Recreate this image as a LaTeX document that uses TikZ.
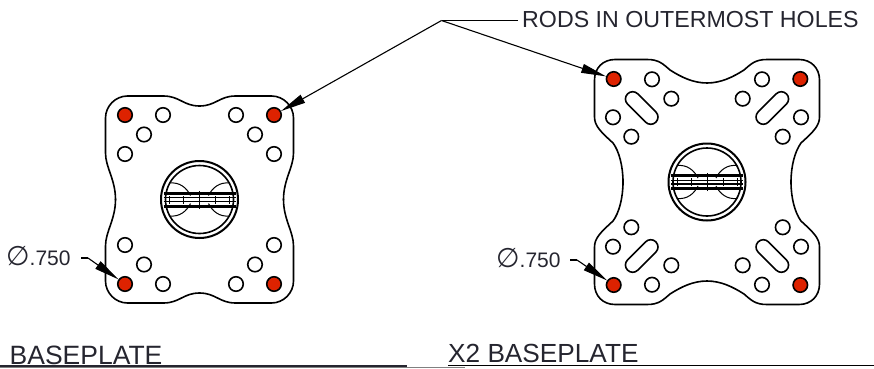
\documentclass[tikz,border=0pt]{standalone}
\usepackage{fontspec}
\setmainfont{Liberation Sans}
\newfontfamily\symbfont{DejaVu Sans}
\usetikzlibrary{arrows.meta}
\definecolor{rodred}{HTML}{DD2200}
\definecolor{inktext}{HTML}{25252F}
\tikzset{
	plateline/.style={line width=1.6pt, line cap=round, line join=round},
	hole/.style={circle, draw, line width=1.6pt, fill=white, inner sep=0pt, minimum size=14.5pt},
	rodhole/.style={hole, fill=rodred},
	slothole/.style={draw, line width=1.6pt, inner sep=0pt, minimum width=40pt, minimum height=14.5pt, rounded corners=7.2pt},
	leader/.style={line width=1.1pt, -{Triangle[length=25pt,width=9pt]}},
	thinline/.style={line width=1.1pt},
	caption/.style={text=inktext, inner sep=0pt, anchor=base west},
	hub/.pic={
		\draw[line width=2pt] (0,0) circle (38.5);
		\draw[line width=1.6pt] (0,0) circle (34);
		\foreach \sx in {1,-1} \foreach \sy in {1,-1}
			\draw[line width=1pt, xscale=\sx, yscale=\sy] (30,16.5) .. controls (20,17.5) and (13,12) .. (9,4);
		\draw[line width=3pt] (-36,6.5) -- (36,6.5);
		\draw[line width=3pt] (-36,-6.5) -- (36,-6.5);
		\draw[line width=1.4pt] (-36,1.8) -- (36,1.8);
		\draw[line width=1.4pt] (-36,-1.8) -- (36,-1.8);
		\foreach \tx in {-30,-16,16,30}
			\draw[line width=1pt] (\tx,-4) -- (\tx,4);
		\draw[line width=1pt] (0,-9) -- (0,9);
	},
}
\begin{document}
\begin{tikzpicture}[x=1pt,y=1pt]
	\useasboundingbox (0,0) rectangle (874,368);

	% baseplate
	\begin{scope}[shift={(199.5,168.5)}]
		\foreach \sx/\sy in {1/1,-1/1,1/-1,-1/-1}
			\draw[plateline, xscale=\sx, yscale=\sy] (0,93.5) .. controls (16,93.5) and (20,103.5) .. (36,103.5) -- (72,103.5)
				.. controls (84,103.5) and (94,93.5) .. (94,81.5) -- (94,46.5)
				.. controls (94,32) and (84,20) .. (84,0);
		\foreach \hx/\hy in {-36.5/84.5,-55.5/65,-74.5/45.5,36.5/84.5,55.5/65,74.5/45.5,-36.5/-84.5,-55.5/-65,-74.5/-45.5,36.5/-84.5,55.5/-65,74.5/-45.5}
			\node[hole] at (\hx,\hy) {};
		\node[rodhole] (baseTL) at (-74.5,84.5) {};
		\node[rodhole] (baseTR) at (74.5,84.5) {};
		\node[rodhole] (baseBL) at (-74.5,-84.5) {};
		\node[rodhole] (baseBR) at (74.5,-84.5) {};
		\pic at (0,0) {hub};
	\end{scope}

	% x2 baseplate
	\begin{scope}[shift={(707,186)}]
		\foreach \sx/\sy in {1/1,-1/1,1/-1,-1/-1}
			\draw[plateline, xscale=\sx, yscale=\sy] (0,99) .. controls (14,99) and (26,105) .. (37,112)
				.. controls (44,118) and (48,122.5) .. (60,122.5) -- (92,122.5)
				.. controls (104,122.5) and (112.5,114) .. (112.5,102) -- (112.5,65)
				.. controls (112.5,56) and (106,50) .. (94,39)
				.. controls (88,31) and (84,16) .. (84,0);
		\foreach \hx/\hy in {-55/102.7,-35.7/83.3,-94/64.7,-75.7/45.3,55/102.7,35.7/83.3,94/64.7,75.7/45.3,-55/-102.7,-35.7/-83.3,-94/-64.7,-75.7/-45.3,55/-102.7,35.7/-83.3,94/-64.7,75.7/-45.3}
			\node[hole] at (\hx,\hy) {};
		\node[slothole, rotate=-45] at (-65.3,74) {};
		\node[slothole, rotate=45] at (65.3,74) {};
		\node[slothole, rotate=45] at (-65.3,-74) {};
		\node[slothole, rotate=-45] at (65.3,-74) {};
		\node[rodhole] (xtwoTL) at (-93.3,103) {};
		\node[rodhole] (xtwoTR) at (93.3,103) {};
		\node[rodhole] (xtwoBL) at (-93.3,-103) {};
		\node[rodhole] (xtwoBR) at (93.3,-103) {};
		\pic at (0,0) {hub};
	\end{scope}

	% callouts
	\node[caption, font=\fontsize{23.2}{23}\selectfont] (rodslabel) at (522,341) {RODS IN OUTERMOST HOLES};
	\coordinate (rodsknee) at (441.5,347.5);
	\draw[thinline] (518,347.5) -- (rodsknee);
	\draw[leader] (rodsknee) -- (xtwoTL);
	\draw[leader] (rodsknee) -- (baseTR);

	\node[caption, font=\fontsize{21}{21}\selectfont] (diaA) at (6,103) {{\symbfont\fontsize{27}{27}\selectfont ∅}.750};
	\coordinate (kneeA) at (88,110);
	\draw[thinline] (81,110) -- (kneeA);
	\draw[leader] (kneeA) -- (baseBL);

	\node[caption, font=\fontsize{21}{21}\selectfont] (diaB) at (496,101) {{\symbfont\fontsize{27}{27}\selectfont ∅}.750};
	\coordinate (kneeB) at (577,108);
	\draw[thinline] (570,108) -- (kneeB);
	\draw[leader] (kneeB) -- (xtwoBL);

	% titles
	\node[caption, font=\fontsize{26.5}{26}\selectfont] (baselabel) at (9.5,4) {BASEPLATE};
	\node[caption, font=\fontsize{26.2}{26}\selectfont] (xtwolabel) at (448,6) {X2 BASEPLATE};
	\draw[line width=2pt, inktext] (0,2.5) -- (407,2.5);
	\draw[line width=1pt] (448,3) -- (874,3);
	\draw[line width=1pt, gray] (0,0.8) -- (465,0.8);
\end{tikzpicture}
\end{document}
